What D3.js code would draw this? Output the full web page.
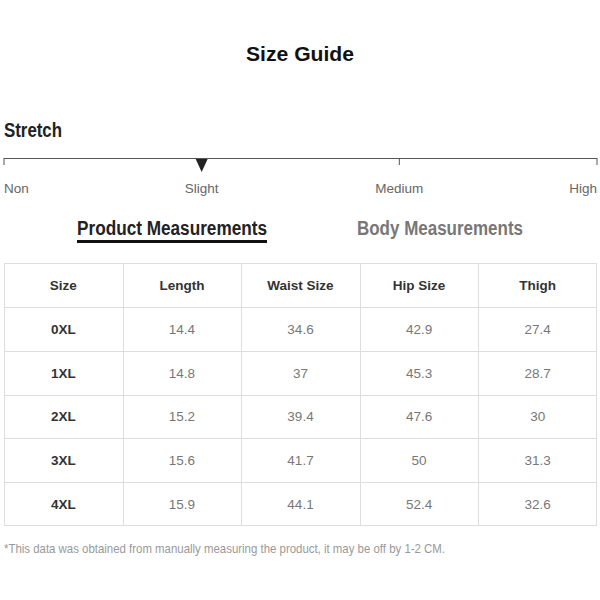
<!DOCTYPE html><html><head><meta charset="utf-8"><script src="https://cdn.jsdelivr.net/npm/d3@7"></script>
<style>body{margin:0;background:#fff}</style></head><body><svg id="c" width="600" height="600"></svg>
<script>
const stretchLevels=["Non","Slight","Medium","High"];
const stretchValue="Slight";
const columns=["Size","Length","Waist Size","Hip Size","Thigh"];
const sizes=["0XL","1XL","2XL","3XL","4XL"];
const lengthV=[14.4,14.8,15.2,15.6,15.9];
const waistV=[34.6,37,39.4,41.7,44.1];
const hipV=[42.9,45.3,47.6,50,52.4];
const thighV=[27.4,28.7,30,31.3,32.6];
const svg=d3.select("#c");
const F="'Liberation Sans Narrow', 'Arial Narrow', 'Liberation Sans', sans-serif";
const FW="Liberation Sans, Arial, sans-serif";
svg.append("text").attr("x",300).attr("y",61).attr("text-anchor","middle").attr("font-family",FW).attr("font-weight","bold").attr("font-size",21).attr("fill","#111").attr("textLength",108).attr("lengthAdjust","spacingAndGlyphs").text("Size Guide");
svg.append("text").attr("x",4).attr("y",137).attr("font-family",F).attr("font-weight","bold").attr("font-size",20).attr("fill","#222").attr("textLength",58).attr("lengthAdjust","spacingAndGlyphs").text("Stretch");
const sx=d3.scalePoint().domain(stretchLevels).range([4,597]);
svg.append("line").attr("x1",4).attr("x2",597).attr("y1",158.5).attr("y2",158.5).attr("stroke","#555").attr("stroke-width",1.2);
svg.selectAll(".tk").data(stretchLevels).join("line").attr("x1",d=>sx(d)).attr("x2",d=>sx(d)).attr("y1",158).attr("y2",165).attr("stroke","#555");
svg.selectAll(".lb").data(stretchLevels).join("text").attr("x",(d,i)=>i==0?4:i==3?597:sx(d)).attr("y",193)
 .attr("text-anchor",(d,i)=>i==0?"start":i==3?"end":"middle").attr("font-family",F).attr("font-size",13.5).attr("fill","#666").text(d=>d);
const tx=sx(stretchValue);
svg.append("path").attr("d",`M${tx-6},159L${tx+6},159L${tx},172Z`).attr("fill","#222");
svg.append("text").attr("x",77).attr("y",235).attr("font-family",F).attr("font-weight","bold").attr("font-size",20).attr("fill","#222").attr("textLength",190).attr("lengthAdjust","spacingAndGlyphs").text("Product Measurements");
svg.append("rect").attr("x",77).attr("y",240).attr("width",190).attr("height",3).attr("fill","#111");
svg.append("text").attr("x",357).attr("y",235).attr("font-family",F).attr("font-weight","bold").attr("font-size",20).attr("fill","#777").attr("textLength",166).attr("lengthAdjust","spacingAndGlyphs").text("Body Measurements");
const rows=sizes.map((s,i)=>[s,lengthV[i],waistV[i],hipV[i],thighV[i]]);
const x=d3.scaleBand().domain(d3.range(5)).range([4,597]);
const y=d3.scaleBand().domain(d3.range(6)).range([263,526]);
const g=svg.append("g");
g.append("rect").attr("x",4.5).attr("y",263.5).attr("width",592).attr("height",262).attr("fill","none").attr("stroke","#ddd");
g.selectAll(".hl").data(d3.range(1,6)).join("line").attr("x1",4).attr("x2",597).attr("y1",d=>Math.round(y(d))+.5).attr("y2",d=>Math.round(y(d))+.5).attr("stroke","#ddd");
g.selectAll(".vl").data(d3.range(1,5)).join("line").attr("y1",263).attr("y2",526).attr("x1",d=>Math.round(x(d))+.5).attr("x2",d=>Math.round(x(d))+.5).attr("stroke","#ddd");
g.selectAll(".h").data(columns).join("text").attr("x",(d,i)=>x(i)+x.bandwidth()/2).attr("y",y(0)+y.bandwidth()/2+5).attr("text-anchor","middle").attr("font-family",F).attr("font-weight","bold").attr("font-size",13.5).attr("fill","#333").text(d=>d);
rows.forEach((r,ri)=>{g.selectAll(".r"+ri).data(r).join("text").attr("x",(d,i)=>x(i)+x.bandwidth()/2).attr("y",y(ri+1)+y.bandwidth()/2+5).attr("text-anchor","middle").attr("font-family",F).attr("font-weight",(d,i)=>i==0?"bold":"normal").attr("font-size",13.5).attr("fill",(d,i)=>i==0?"#333":"#777").text(d=>d);});
svg.append("text").attr("x",4).attr("y",553).attr("font-family",F).attr("font-size",13).attr("fill","#999").attr("textLength",441).attr("lengthAdjust","spacingAndGlyphs").text("*This data was obtained from manually measuring the product, it may be off by 1-2 CM.");
</script></body></html>
